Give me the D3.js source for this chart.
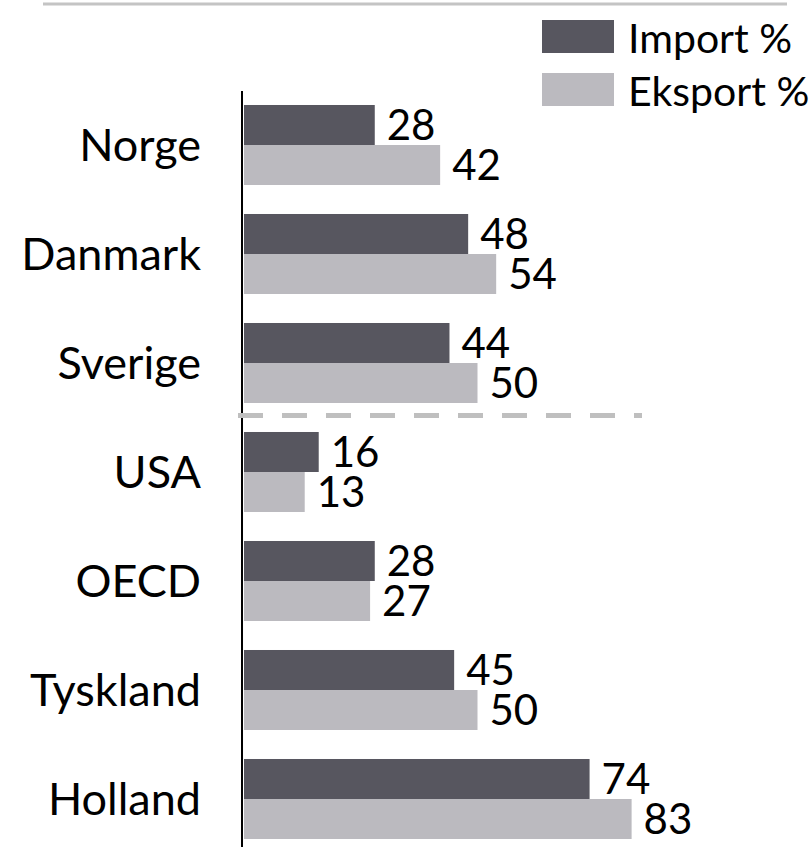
<!DOCTYPE html>
<html>
<head>
<meta charset="utf-8">
<script src="https://cdn.jsdelivr.net/npm/d3@7"></script>
<style>
  body { margin: 0; background: #fff; }
  svg { display: block; font-family: Lato, "Open Sans", sans-serif; }
</style>
</head>
<body>
<script>
// data
const countries = ["Norge", "Danmark", "Sverige", "USA", "OECD", "Tyskland", "Holland"];
const importPct = [28, 48, 44, 16, 28, 45, 74];
const eksportPct = [42, 54, 50, 13, 27, 50, 83];
const seriesNames = ["Import %", "Eksport %"];
const seriesColors = ["#57565f", "#bbbabf"];

width = 809;
height = 847;
fontSize = 42;
catFontSize = 45;

const svg = d3.select("body").append("svg")
  .attr("width", width)
  .attr("height", height);

x = d3.scaleLinear().domain([0, 100]).range([244, 711]);
y = d3.scaleBand().domain(countries).range([90.5, 853.5])
  .paddingInner(0.266).paddingOuter(0.133);
// inner band: the two series
ySub = d3.scaleBand().domain(seriesNames).range([0, y.bandwidth()]);

// light rule across the top
svg.append("line")
  .attr("x1", 43).attr("x2", 787)
  .attr("y1", 4).attr("y2", 4)
  .attr("stroke", "#c4c4c4")
  .attr("stroke-width", 3);

const rows = countries.map((c, i) => ({ name: c, values: [importPct[i], eksportPct[i]] }));

const group = svg.selectAll(".row")
  .data(rows)
  .enter()
  .append("g")
  .attr("class", "row")
  .attr("transform", d => `translate(0,${y(d.name)})`);

group.selectAll("rect")
  .data(d => d.values.map((v, j) => ({ key: seriesNames[j], value: v, j: j })))
  .enter()
  .append("rect")
  .attr("x", x(0))
  .attr("y", d => ySub(d.key))
  .attr("width", d => x(d.value) - x(0))
  .attr("height", ySub.bandwidth())
  .attr("fill", d => seriesColors[d.j]);

group.selectAll("text.value")
  .data(d => d.values.map((v, j) => ({ key: seriesNames[j], value: v })))
  .enter()
  .append("text")
  .attr("class", "value")
  .attr("x", d => x(d.value) + 12)
  .attr("y", d => ySub(d.key) + ySub.bandwidth() / 2 + 15)
  .attr("font-size", fontSize)
  .attr("fill", "#000")
  .text(d => d.value);

// category labels
group.append("text")
  .attr("x", 201)
  .attr("y", y.bandwidth() / 2 + 16)
  .attr("text-anchor", "end")
  .attr("font-size", catFontSize)
  .attr("fill", "#000")
  .text(d => d.name);

// vertical axis line
svg.append("line")
  .attr("x1", 242).attr("x2", 242)
  .attr("y1", 91).attr("y2", height)
  .attr("stroke", "#000")
  .attr("stroke-width", 2);

// dashed divider between Nordic countries and the rest
const divY = (y("Sverige") + y.bandwidth() + y("USA")) / 2 - 2;
svg.append("line")
  .attr("x1", 238).attr("x2", 642)
  .attr("y1", divY).attr("y2", divY)
  .attr("stroke", "#bfbfbf")
  .attr("stroke-width", 5)
  .attr("stroke-dasharray", "25,19");

// legend
const legend = svg.selectAll(".legend")
  .data(seriesNames)
  .enter()
  .append("g")
  .attr("class", "legend")
  .attr("transform", (d, i) => `translate(542,${20 + i * 53})`);
legend.append("rect")
  .attr("width", 72)
  .attr("height", 33)
  .attr("fill", (d, i) => seriesColors[i]);
legend.append("text")
  .attr("x", 86)
  .attr("y", 33)
  .attr("font-size", 41)
  .attr("fill", "#000")
  .text(d => d);
</script>
</body>
</html>
